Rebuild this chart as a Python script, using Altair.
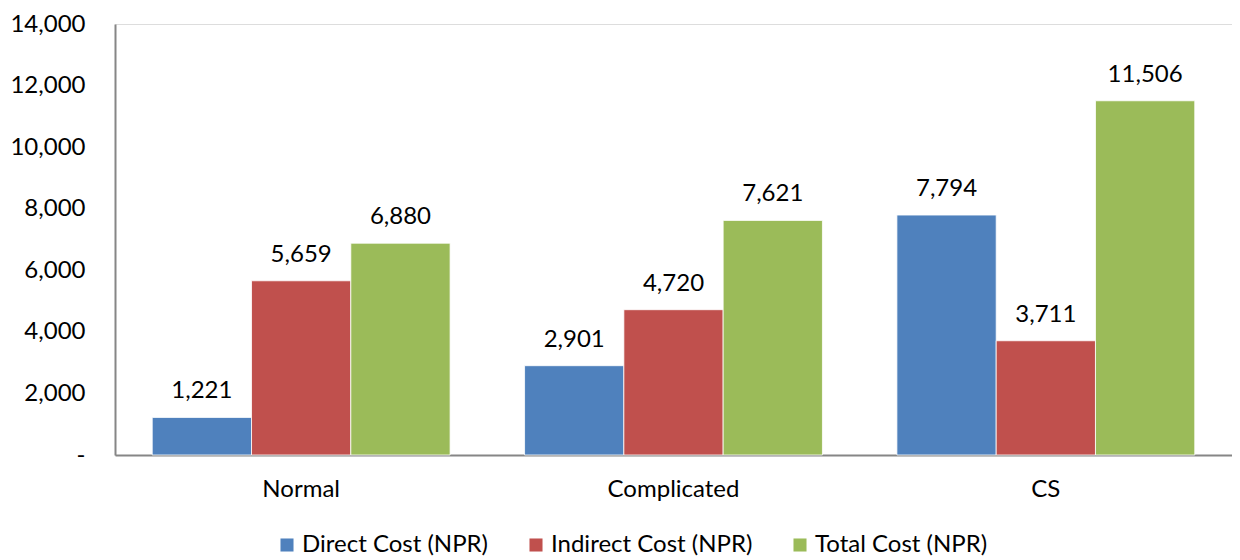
import altair as alt
import pandas as pd

categories = ["Normal", "Complicated", "CS"]
series = ["Direct Cost (NPR)", "Indirect Cost (NPR)", "Total Cost (NPR)"]
direct = [1221, 2901, 7794]
indirect = [5659, 4720, 3711]
total = [6880, 7621, 11506]
colors = ["#4F81BD", "#C0504D", "#9BBB59"]
y_ticks = [0, 2000, 4000, 6000, 8000, 10000, 12000, 14000]

rows = []
for i, c in enumerate(categories):
    for s, vals in zip(series, [direct, indirect, total]):
        rows.append({"category": c, "series": s, "value": vals[i]})
df = pd.DataFrame(rows)

FONT = "Lato"
FS = 24

base = alt.Chart(df).encode(
    x=alt.X("category:N", sort=categories,
            scale=alt.Scale(paddingInner=0.2, paddingOuter=0.1),
            axis=alt.Axis(title=None, labelAngle=0, ticks=False,
                          domainColor="#868686", domainWidth=2,
                          labelFontSize=FS, labelColor="#000000",
                          labelPadding=22, labelFont=FONT)),
    xOffset=alt.XOffset("series:N", sort=series),
)

bars = base.mark_bar(stroke="white", strokeWidth=0.8).encode(
    y=alt.Y("value:Q", scale=alt.Scale(domain=[0, 14000]),
            axis=alt.Axis(title=None, values=y_ticks, grid=False, ticks=False,
                          domainColor="#868686", domainWidth=2,
                          labelFontSize=FS, labelColor="#000000", labelFont=FONT,
                          labelPadding=30,
                          labelExpr="datum.value == 0 ? '-\u00a0\u00a0\u00a0' : format(datum.value, ',')")),
    color=alt.Color("series:N", sort=series,
                    scale=alt.Scale(domain=series, range=colors),
                    legend=alt.Legend(title=None, orient="none", direction="horizontal",
                                      legendX=160, legendY=509,
                                      symbolType="square", symbolSize=170,
                                      symbolStrokeWidth=0,
                                      labelFontSize=FS, labelFont=FONT,
                                      labelColor="#000000", columnPadding=35,
                                      labelOffset=3, labelLimit=400)),
)

labels = base.mark_text(dy=-26, fontSize=FS, font=FONT, color="#000000").encode(
    y=alt.Y("value:Q"),
    text=alt.Text("value:Q", format=","),
)

chart = alt.layer(bars, labels).properties(
    width=1117, height=431,
    padding={"left": 107, "top": 16, "right": 0, "bottom": 104},
    autosize="none",
).configure_view(stroke=None).configure(background="white")

chart.save("out.html", embed_options={"renderer": "svg", "actions": False})
